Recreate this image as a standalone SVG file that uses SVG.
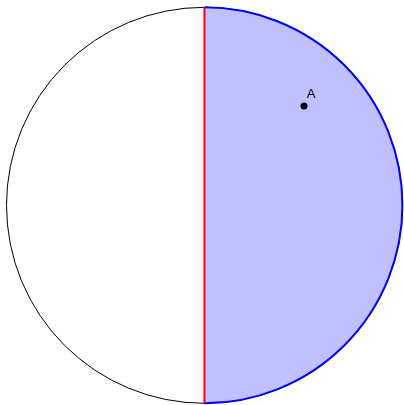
<svg xmlns="http://www.w3.org/2000/svg" width="404" height="405" viewBox="0 0 404 405">
<style>
.lbl{font-family:"Liberation Sans",Arial,sans-serif;font-size:13px;fill:#000}
</style>
<rect width="404" height="405" fill="#fff"/>
<g id="circle">
<circle cx="204.5" cy="205.3" r="198" fill="none" stroke="#000" stroke-width="1"/>
</g>
<g id="half">
<path d="M204.5,7.3 A198,198 0 0 1 204.5,403.3 Z" fill="#c0c0ff" stroke="none"/>
<path d="M204.5,7.3 A198,198 0 0 1 204.5,403.3" fill="none" stroke="#0000ff" stroke-width="2"/>
</g>
<g id="connectors">
<line x1="204.5" y1="7.3" x2="204.5" y2="403.3" stroke="#ff0000" stroke-width="2"/>
</g>
<g id="pointA">
<circle cx="304" cy="106" r="3.5" fill="#000"/>
<text class="lbl" x="306.8" y="97.5">A</text>
</g>
</svg>
